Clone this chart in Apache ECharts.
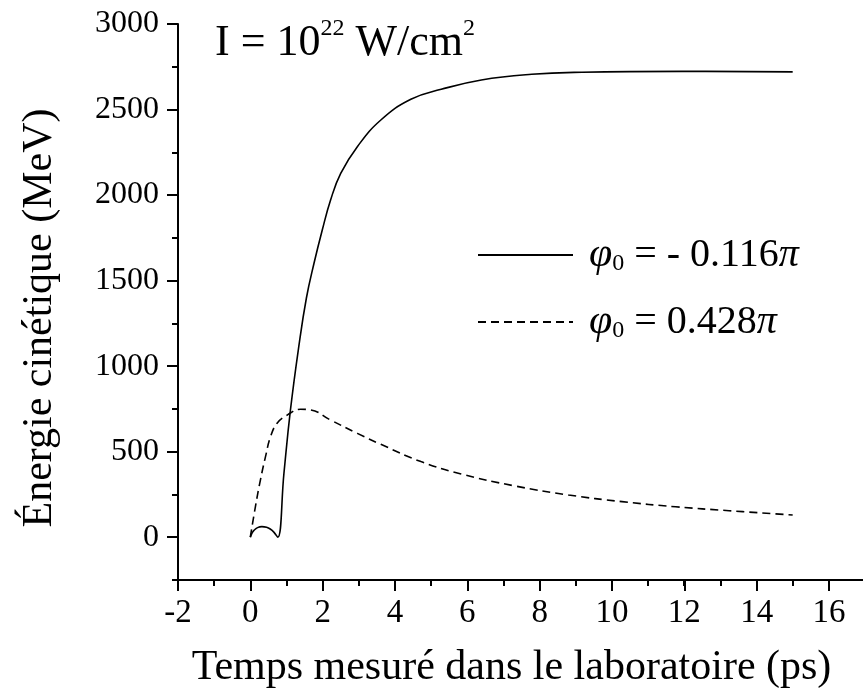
<!DOCTYPE html>
<html>
<head>
<meta charset="utf-8">
<script src="https://cdn.jsdelivr.net/npm/echarts@6/dist/echarts.min.js"></script>
<style>
html, body { margin: 0; padding: 0; background: #fff; }
#main { width: 863px; height: 698px; }
</style>
</head>
<body>
<div id="main"></div>
<script>
// données : [temps (ps), énergie (MeV)]
var seriesNames = ['φ0 = - 0.116π', 'φ0 = 0.428π'];
var legendValues = ['- 0.116', '0.428'];
var solidData = [
    [0, 0], [0.05, 25], [0.1, 40], [0.2, 56], [0.32, 62], [0.45, 58], [0.55, 48], [0.65, 30], [0.76, 0],
    [0.93, 374], [1.11, 744], [1.34, 1114], [1.55, 1397], [1.76, 1600], [1.99, 1796], [2.22, 1971],
    [2.5, 2127], [2.96, 2283], [3.61, 2439], [4.44, 2560], [5.28, 2618], [6.39, 2673], [7.78, 2706],
    [9.17, 2718], [11.94, 2723], [15, 2720]
];
var dashedData = [
    [0, 0], [0.14, 178], [0.28, 335], [0.42, 471], [0.56, 588], [0.74, 666], [1.02, 714], [1.39, 748],
    [1.67, 744], [2.22, 685], [2.96, 607], [3.61, 543], [4.72, 442], [5.83, 370], [7.31, 300],
    [8.8, 247], [10.28, 208], [11.76, 178], [13.24, 155], [15, 130]
];
// axes
var xMin = -2, xMax = 17, xLabelMax = 16, xMajor = 2, xMinor = 1;
var yMin = -250, yMax = 3000, yLabelMin = 0, yMajor = 500, yMinor = 250;

var font = 'Liberation Serif';

function initChart(divId) {
    var myChart = echarts.init(document.getElementById(divId));
    var axisLine = { show: true, onZero: false, lineStyle: { color: '#000', width: 2 } };
    var option = {
        backgroundColor: '#fff',
        animation: false,
        title: {
            text: '{a|I = 10}{s|22}{a| W/cm}{s|2}',
            left: 210,
            top: 12,
            textStyle: {
                fontWeight: 'normal',
                rich: {
                    a: { fontFamily: font, fontSize: 44, fontWeight: 'normal', color: '#000', lineHeight: 52 },
                    s: { fontFamily: font, fontSize: 24, fontWeight: 'normal', color: '#000', verticalAlign: 'top', lineHeight: 24 }
                }
            }
        },
        legend: {
            orient: 'vertical',
            left: 472,
            top: 229,
            itemWidth: 95,
            itemHeight: 20,
            itemGap: 25,
            itemStyle: { opacity: 0 },
            data: seriesNames,
            formatter: function (name) {
                var i = seriesNames.indexOf(name);
                return '{phi|φ}{sub|0}{t| = ' + legendValues[i] + '}{pi|π}';
            },
            textStyle: {
                rich: {
                    phi: { fontFamily: font, fontStyle: 'italic', fontSize: 42, color: '#000', padding: [0, 0, 0, 11] },
                    sub: { fontFamily: font, fontSize: 24, color: '#000', verticalAlign: 'bottom' },
                    t: { fontFamily: font, fontSize: 40, color: '#000' },
                    pi: { fontFamily: font, fontStyle: 'italic', fontSize: 40, color: '#000' }
                }
            }
        },
        grid: [
            { left: 178, right: -2, top: 24, bottom: 118, outerBoundsMode: 'none' },
            { left: 178, right: 34, top: 24, bottom: 160.77, outerBoundsMode: 'none' }
        ],
        xAxis: [
            {
                gridIndex: 0, type: 'value', min: xMin, max: xMax, interval: xMinor,
                axisLine: axisLine,
                axisTick: { show: true, length: 6, lineStyle: { color: '#000', width: 2 } },
                axisLabel: { show: false },
                splitLine: { show: false },
                name: 'Temps mesuré dans le laboratoire (ps)',
                nameLocation: 'middle',
                nameGap: 67,
                nameTextStyle: { fontFamily: font, fontSize: 42, color: '#000', padding: [0, 20, 0, 0] }
            },
            {
                gridIndex: 1, type: 'value', min: xMin, max: xLabelMax, interval: xMajor,
                offset: 42.77,
                axisLine: { show: false, onZero: false },
                axisTick: { show: true, length: 11, lineStyle: { color: '#000', width: 2 } },
                axisLabel: { color: '#000', fontFamily: font, fontSize: 33, margin: 17 },
                splitLine: { show: false }
            }
        ],
        yAxis: [
            {
                gridIndex: 0, type: 'value', min: yMin, max: yMax, interval: yMinor,
                axisLine: axisLine,
                axisTick: { show: true, length: 6, lineStyle: { color: '#000', width: 2 } },
                axisLabel: { show: false },
                splitLine: { show: false },
                name: 'Énergie cinétique (MeV)',
                nameLocation: 'middle',
                nameGap: 117,
                nameTextStyle: { fontFamily: font, fontSize: 42, color: '#000', padding: [0, 32, 0, 0] }
            },
            {
                gridIndex: 1, type: 'value', min: yLabelMin, max: yMax, interval: yMajor,
                axisLine: { show: false, onZero: false },
                axisTick: { show: true, length: 11, lineStyle: { color: '#000', width: 2 } },
                axisLabel: {
                    color: '#000', fontFamily: font, fontSize: 32, margin: 19,
                    formatter: function (v) { return String(v); }
                },
                splitLine: { show: false }
            }
        ],
        series: [
            {
                name: seriesNames[0],
                type: 'line',
                xAxisIndex: 0, yAxisIndex: 0,
                data: solidData,
                showSymbol: false, symbol: 'none',
                smooth: 0.45,
                color: '#000',
                lineStyle: { color: '#000', width: 1.6, type: 'solid' }
            },
            {
                name: seriesNames[1],
                type: 'line',
                xAxisIndex: 0, yAxisIndex: 0,
                data: dashedData,
                showSymbol: false, symbol: 'none',
                smooth: 0.45,
                color: '#000',
                lineStyle: { color: '#000', width: 1.6, type: [8, 5] }
            }
        ]
    };
    myChart.clear();
    myChart.setOption(option);
    return myChart;
}
var myChart = initChart('main');
</script>
</body>
</html>
